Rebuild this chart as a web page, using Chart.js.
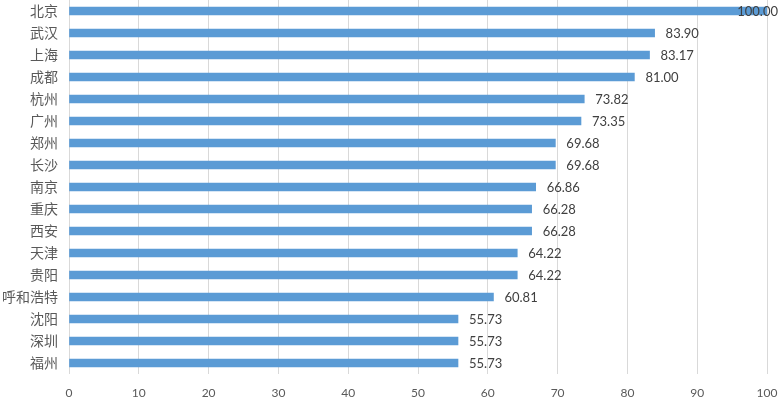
<!DOCTYPE html>
<html>
<head>
<meta charset="utf-8">
<script src="https://cdn.jsdelivr.net/npm/chart.js@4"></script>
<style>
  html, body { margin: 0; padding: 0; background: #fff; }
  #wrap { width: 779px; height: 398px; }
</style>
</head>
<body>
<div id="wrap"><canvas id="chart" width="779" height="398"></canvas></div>
<script>
const cities = ['北京', '武汉', '上海', '成都', '杭州', '广州', '郑州', '长沙', '南京', '重庆', '西安', '天津', '贵阳', '呼和浩特', '沈阳', '深圳', '福州'];
const scores = [100.00, 83.90, 83.17, 81.00, 73.82, 73.35, 69.68, 69.68, 66.86, 66.28, 66.28, 64.22, 64.22, 60.81, 55.73, 55.73, 55.73];
const xTicks = [0, 10, 20, 30, 40, 50, 60, 70, 80, 90, 100];

// value labels at the end of each bar
const barLabels = {
  id: 'barLabels',
  afterDatasetsDraw(chart) {
    const ctx = chart.ctx;
    const meta = chart.getDatasetMeta(0);
    ctx.save();
    ctx.font = '13px Lato, "Noto Sans", sans-serif';
    ctx.fillStyle = '#404040';
    ctx.textBaseline = 'middle';
    meta.data.forEach((bar, i) => {
      const text = scores[i].toFixed(2);
      const w = ctx.measureText(text).width;
      let x = bar.x + 11;
      if (x + w > chart.width - 1) x = chart.width - 1 - w;
      ctx.fillText(text, x, bar.y + 1);
    });
    ctx.restore();
  }
};

new Chart(document.getElementById('chart'), {
  type: 'bar',
  data: {
    labels: cities,
    datasets: [{
      data: scores,
      backgroundColor: '#5B9BD5',
      borderWidth: 0,
      barThickness: 8
    }]
  },
  options: {
    indexAxis: 'y',
    responsive: false,
    animation: false,
    layout: { padding: { top: 0, right: 12, bottom: 0, left: 0 } },
    plugins: {
      legend: { display: false },
      tooltip: { enabled: false }
    },
    scales: {
      x: {
        min: 0,
        max: 100,
        afterBuildTicks(scale) {
          scale.ticks = xTicks.map(v => ({ value: v }));
        },
        afterFit(scale) {
          scale.height = 24;
          scale.paddingLeft = 0;
          scale.paddingRight = 0;
        },
        grid: { color: '#d9d9d9', lineWidth: 1, drawTicks: false },
        border: { display: false },
        ticks: {
          padding: 12,
          color: '#595959',
          font: { family: 'Lato, "Noto Sans", sans-serif', size: 12 },
          maxRotation: 0
        }
      },
      y: {
        afterFit(scale) {
          scale.width = 69;
          scale.paddingTop = 0;
          scale.paddingBottom = 0;
        },
        grid: { display: false, drawTicks: false },
        border: { display: false },
        ticks: {
          padding: 11,
          color: '#595959',
          font: { family: '"Noto Sans CJK SC", sans-serif', size: 14 },
          autoSkip: false
        }
      }
    }
  },
  plugins: [barLabels]
});
</script>
</body>
</html>
